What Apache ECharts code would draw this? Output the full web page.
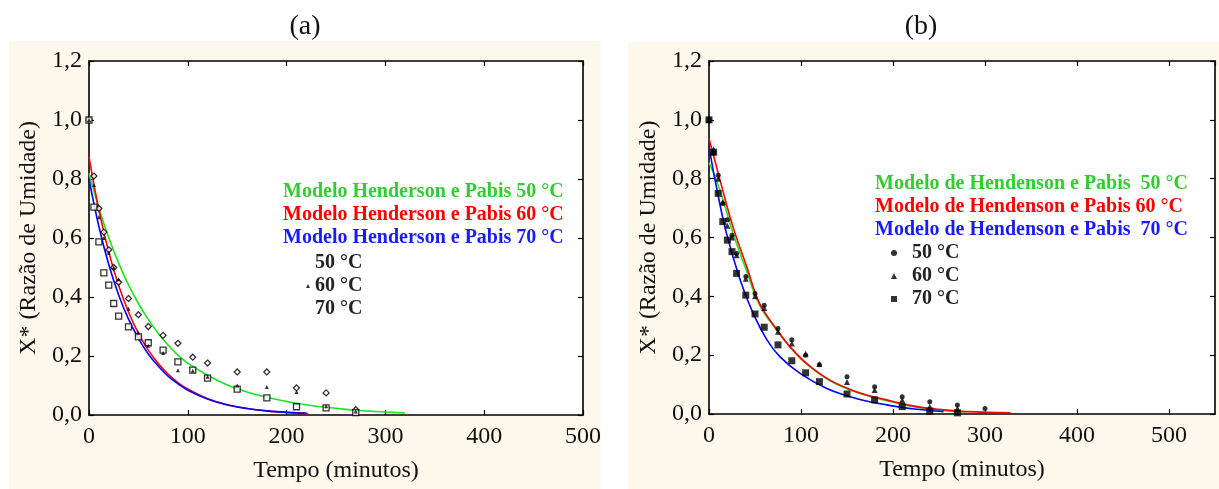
<!DOCTYPE html>
<html>
<head>
<meta charset="utf-8">
<script src="https://cdn.jsdelivr.net/npm/echarts@6/dist/echarts.min.js"></script>
<style>
  html, body { margin: 0; padding: 0; background: #ffffff; }
  #wrap { position: relative; width: 1219px; height: 489px; }
  .panel-bg { position: absolute; background: #fdf8ec; }
  #bgA { left: 9px; top: 41px; width: 592px; height: 448px; }
  #bgB { left: 628px; top: 42px; width: 591px; height: 447px; }
  #chart { position: absolute; left: 0; top: 0; width: 1219px; height: 489px; }
</style>
</head>
<body>
<div id="wrap">
  <div class="panel-bg" id="bgA"></div>
  <div class="panel-bg" id="bgB"></div>
  <div id="chart"></div>
</div>
<script>
// ---------- Experimental sampling times (min) ----------
const timesA = [0, 5, 10, 15, 20, 25, 30, 40, 50, 60, 75, 90, 105, 120, 150, 180, 210, 240, 270];
const timesB = [0, 5, 10, 15, 20, 25, 30, 40, 50, 60, 75, 90, 105, 120, 150, 180, 210, 240, 270, 300];

// ---------- Panel (a): measured moisture ratio ----------
const obsA50 = [1.0, 0.81, 0.70, 0.62, 0.56, 0.50, 0.45, 0.395, 0.34, 0.30, 0.27, 0.243, 0.196, 0.176, 0.146, 0.146, 0.092, 0.075, 0.018];
const obsA60 = [1.0, 0.78, 0.67, 0.60, 0.55, 0.50, 0.46, 0.36, 0.28, 0.235, 0.21, 0.152, 0.15, 0.13, 0.10, 0.095, 0.078, 0.03, 0.012];
const obsA70 = [1.0, 0.705, 0.587, 0.482, 0.44, 0.378, 0.335, 0.299, 0.265, 0.245, 0.22, 0.18, 0.152, 0.125, 0.088, 0.058, 0.028, 0.024, 0.008];

// ---------- Panel (a): Henderson & Pabis model curves ----------
const fitA50t = [0, 10, 20, 30, 40, 50, 60, 70, 80, 90, 100, 120, 140, 160, 180, 200, 220, 240, 260, 280, 300, 320];
const fitA50v = [0.82, 0.702, 0.601, 0.515, 0.441, 0.378, 0.324, 0.277, 0.237, 0.203, 0.176, 0.135, 0.102, 0.078, 0.060, 0.046, 0.035, 0.026, 0.019, 0.014, 0.010, 0.007];
const fitA60t = [0, 10, 20, 30, 40, 50, 60, 70, 80, 90, 100, 120, 140, 160, 180, 200, 222];
const fitA60v = [0.875, 0.695, 0.552, 0.439, 0.349, 0.277, 0.220, 0.175, 0.139, 0.110, 0.088, 0.055, 0.035, 0.022, 0.014, 0.009, 0.005];
const fitA70t = [0, 10, 20, 30, 40, 50, 60, 70, 80, 90, 100, 120, 140, 160, 180, 200, 220];
const fitA70v = [0.80, 0.639, 0.510, 0.407, 0.325, 0.260, 0.207, 0.166, 0.132, 0.106, 0.084, 0.054, 0.034, 0.022, 0.014, 0.009, 0.006];

// ---------- Panel (b): measured moisture ratio ----------
const obsB50 = [1.0, 0.886, 0.812, 0.716, 0.66, 0.608, 0.546, 0.467, 0.41, 0.37, 0.291, 0.252, 0.20, 0.167, 0.127, 0.093, 0.059, 0.042, 0.031, 0.019];
const obsB60 = [1.0, 0.90, 0.80, 0.72, 0.64, 0.60, 0.54, 0.46, 0.40, 0.36, 0.28, 0.24, 0.205, 0.17, 0.109, 0.082, 0.048, 0.025, 0.019, null];
const obsB70 = [1.0, 0.89, 0.75, 0.654, 0.591, 0.552, 0.478, 0.404, 0.34, 0.295, 0.235, 0.181, 0.14, 0.11, 0.068, 0.048, 0.025, 0.010, 0.004, null];

// ---------- Panel (b): Henderson & Pabis model curves ----------
const fitB50t = [0, 12, 26, 41, 55, 74, 88, 106, 131, 160, 193, 226, 255, 280];
const fitB50v = [0.855, 0.76, 0.615, 0.485, 0.37, 0.283, 0.228, 0.17, 0.114, 0.074, 0.045, 0.023, 0.012, 0.007];
const fitB60t = [0, 12, 26, 41, 55, 74, 88, 106, 131, 160, 193, 226, 255, 280, 328];
const fitB60v = [0.937, 0.795, 0.637, 0.501, 0.376, 0.286, 0.229, 0.172, 0.116, 0.076, 0.048, 0.025, 0.014, 0.008, 0.004];
const fitB70t = [0, 8, 19, 34, 48, 63, 77, 99, 128, 160, 193, 226, 255];
const fitB70v = [0.909, 0.773, 0.614, 0.455, 0.342, 0.252, 0.195, 0.138, 0.087, 0.053, 0.031, 0.016, 0.008];

// ---------- Text ----------
const panelTitles = ['(a)', '(b)'];
const xName = 'Tempo (minutos)';
const yName = 'X* (Razão de Umidade)';
const modelNamesA = ['Modelo Henderson e Pabis 50 °C', 'Modelo Henderson e Pabis 60 °C', 'Modelo Henderson e Pabis 70 °C'];
const modelNamesB = ['Modelo de Hendenson e Pabis  50 °C', 'Modelo de Hendenson e Pabis 60 °C', 'Modelo de Hendenson e Pabis  70 °C'];
const tempNames = ['50 °C', '60 °C', '70 °C'];

const pairs = (t, v) => t.map((x, i) => [x, v[i]]);
const SERIF = '"Liberation Serif", "DejaVu Serif", serif';
const lineColors = ['#1fe31f', '#ff0000', '#0000ff'];
const legendColors = ['#33cc33', '#ff0000', '#1a1aff'];

function baseX(gridIndex, max, pos, labels) {
  return {
    type: 'value', gridIndex, min: 0, max, interval: 100, position: pos,
    axisLine: { show: true, onZero: false, lineStyle: { color: '#000', width: 1.6 } },
    axisTick: { show: true, inside: true, length: 5, lineStyle: { color: '#000', width: 1.2 } },
    splitLine: { show: false },
    axisLabel: labels ? {
      show: true, margin: 10, color: '#111', fontFamily: SERIF, fontSize: 24, showMaxLabel: max === 500
    } : { show: false },
    name: labels ? xName : '', nameLocation: 'middle', nameGap: 44,
    nameTextStyle: { color: '#111', fontFamily: SERIF, fontSize: 24 }
  };
}
function baseY(gridIndex, pos, labels) {
  return {
    type: 'value', gridIndex, min: 0, max: 1.2, interval: 0.2, position: pos,
    axisLine: { show: true, onZero: false, lineStyle: { color: '#000', width: 1.6 } },
    axisTick: { show: true, inside: true, length: 5, lineStyle: { color: '#000', width: 1.2 } },
    splitLine: { show: false },
    axisLabel: labels ? {
      show: true, margin: 7, color: '#111', fontFamily: SERIF, fontSize: 24,
      formatter: v => v.toFixed(1).replace('.', ',')
    } : { show: false },
    name: labels ? yName : '', nameLocation: 'middle', nameGap: 48, nameRotate: 90,
    nameTextStyle: { color: '#111', fontFamily: SERIF, fontSize: 24 }
  };
}

function modelLine(name, t, v, color, axisIdx) {
  return {
    name, type: 'line', xAxisIndex: axisIdx, yAxisIndex: axisIdx,
    data: pairs(t, v), smooth: 0.4, showSymbol: false, symbol: 'none',
    lineStyle: { color, width: 1.6 }, itemStyle: { color }, z: 3
  };
}
function obsPoints(name, t, v, symbol, size, hollow, axisIdx, z) {
  return {
    name, type: 'scatter', xAxisIndex: axisIdx, yAxisIndex: axisIdx,
    data: pairs(t, v).filter(p => p[1] !== null), symbol, symbolSize: size,
    itemStyle: hollow ? { color: '#ffffff', borderColor: '#000', borderWidth: 1.3 } : { color: '#000' },
    z: z || 4
  };
}

const legendText = { fontFamily: SERIF, fontSize: 20, fontWeight: 'bold', lineHeight: 22 };
const solidIcon = { color: '#000', borderWidth: 0 };

const option = {
  backgroundColor: 'transparent',
  animation: false,
  grid: [
    { left: 89, top: 61, width: 494, height: 354, show: true, backgroundColor: '#ffffff', borderWidth: 0 },
    { left: 709, top: 61, width: 506, height: 353, show: true, backgroundColor: '#ffffff', borderWidth: 0 }
  ],
  xAxis: [
    baseX(0, 500, 'bottom', true), baseX(1, 550, 'bottom', true),
    baseX(0, 500, 'top', false), baseX(1, 550, 'top', false)
  ],
  yAxis: [
    baseY(0, 'left', true), baseY(1, 'left', true),
    baseY(0, 'right', false), baseY(1, 'right', false)
  ],
  legend: [
    {
      orient: 'vertical', left: 273, top: 176, itemWidth: 0, itemHeight: 10, itemGap: 1,
      selectedMode: false, textStyle: legendText,
      data: modelNamesA.map((n, i) => ({ name: n, icon: 'none', textStyle: { color: legendColors[i] } }))
    },
    {
      orient: 'vertical', left: 301, top: 247, itemWidth: 4, itemHeight: 4, itemGap: 1,
      selectedMode: false, textStyle: Object.assign({ color: '#222' }, legendText),
      data: [
        { name: tempNames[0], icon: 'none' },
        { name: tempNames[1], icon: 'triangle', itemStyle: solidIcon },
        { name: tempNames[2], icon: 'none' }
      ]
    },
    {
      orient: 'vertical', left: 865, top: 168, itemWidth: 0, itemHeight: 10, itemGap: 1,
      selectedMode: false, textStyle: legendText,
      data: modelNamesB.map((n, i) => ({ name: n, icon: 'none', textStyle: { color: legendColors[i] } }))
    },
    {
      orient: 'vertical', left: 886, top: 237, itemWidth: 6, itemHeight: 6, itemGap: 1,
      selectedMode: false, textStyle: Object.assign({ color: '#222', padding: [0, 0, 0, 10] }, legendText),
      data: [
        { name: tempNames[0], icon: 'circle', itemStyle: solidIcon },
        { name: tempNames[1], icon: 'triangle', itemStyle: solidIcon },
        { name: tempNames[2], icon: 'rect', itemStyle: solidIcon }
      ]
    }
  ],
  graphic: [
    { type: 'text', x: 305, y: 27, style: { text: panelTitles[0], font: '28px ' + SERIF, fill: '#111', textAlign: 'center', textVerticalAlign: 'middle' } },
    { type: 'text', x: 921, y: 27, style: { text: panelTitles[1], font: '28px ' + SERIF, fill: '#111', textAlign: 'center', textVerticalAlign: 'middle' } }
  ],
  series: [
    modelLine(modelNamesA[0], fitA50t, fitA50v, lineColors[0], 0),
    modelLine(modelNamesA[1], fitA60t, fitA60v, lineColors[1], 0),
    modelLine(modelNamesA[2], fitA70t, fitA70v, lineColors[2], 0),
    obsPoints(tempNames[0], timesA, obsA50, 'diamond', 6, true, 0),
    obsPoints(tempNames[1], timesA, obsA60, 'triangle', 4, false, 0, 6),
    obsPoints(tempNames[2], timesA, obsA70, 'rect', 6, true, 0),
    modelLine(modelNamesB[0], fitB50t, fitB50v, lineColors[0], 1),
    modelLine(modelNamesB[1], fitB60t, fitB60v, lineColors[1], 1),
    modelLine(modelNamesB[2], fitB70t, fitB70v, lineColors[2], 1),
    obsPoints(tempNames[0], timesB, obsB50, 'circle', 5, false, 1),
    obsPoints(tempNames[1], timesB, obsB60, 'triangle', 6, false, 1),
    obsPoints(tempNames[2], timesB, obsB70, 'rect', 7, false, 1)
  ]
};

const chart = echarts.init(document.getElementById('chart'), null, { renderer: 'canvas' });
chart.setOption(option);
</script>
</body>
</html>
